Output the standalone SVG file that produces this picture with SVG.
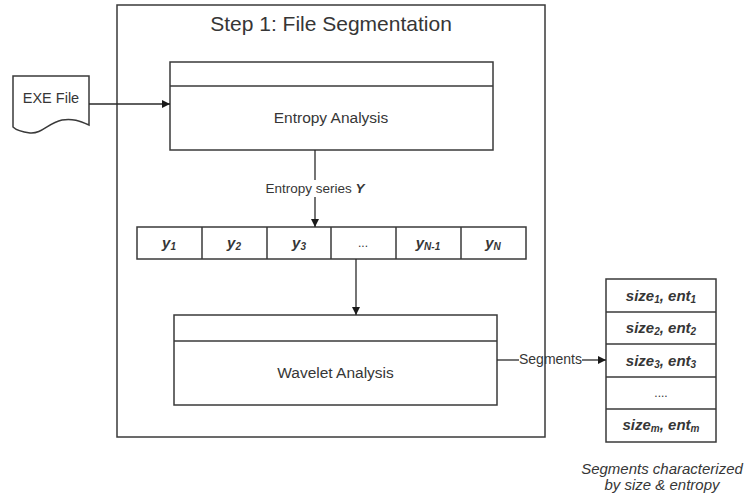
<svg xmlns="http://www.w3.org/2000/svg" width="752" height="500" viewBox="0 0 752 500">
<defs>
<style>
.box{fill:#fff;stroke:#3a3a3a;stroke-width:1.5}
.ln{fill:none;stroke:#2a2a2a;stroke-width:1.3}
.t{font-family:"Liberation Sans",Arial,sans-serif;fill:#363636}
.bi{font-family:"Liberation Sans",Arial,sans-serif;fill:#363636;font-weight:bold;font-style:italic;font-size:15px}
.sub{font-size:10px}
</style>
<marker id="ah" viewBox="0 0 10 10" refX="10" refY="5" markerWidth="8" markerHeight="8" markerUnits="userSpaceOnUse" orient="auto">
<path d="M0,0 L10,5 L0,10 Z" fill="#1a1a1a"/>
</marker>
</defs>
<rect width="752" height="500" fill="#fff"/>

<g id="step1">
<rect class="box" x="117" y="5" width="428" height="432"/>
<text class="t" x="331" y="31" font-size="21" text-anchor="middle">Step 1: File Segmentation</text>
</g>

<g id="exe-file">
<path class="box" d="M13,76 H89 V125 C80,121 72,118 62,120 C48,123 42,134 30,133 C22,132 16,130 13,127 Z"/>
<text class="t" x="51" y="103" font-size="14.5" text-anchor="middle">EXE File</text>
</g>

<g id="entropy-analysis">
<rect class="box" x="170" y="62" width="323" height="88"/>
<line class="box" x1="170" y1="86" x2="493" y2="86"/>
<text class="t" x="331" y="123" font-size="15.5" text-anchor="middle">Entropy Analysis</text>
</g>

<g id="entropy-series">
<rect class="box" x="137" y="227" width="389" height="32"/>
<line class="box" x1="202" y1="227" x2="202" y2="259"/>
<line class="box" x1="267" y1="227" x2="267" y2="259"/>
<line class="box" x1="331" y1="227" x2="331" y2="259"/>
<line class="box" x1="396" y1="227" x2="396" y2="259"/>
<line class="box" x1="461" y1="227" x2="461" y2="259"/>
<text class="bi" x="169" y="248" text-anchor="middle">y<tspan class="sub" dy="2">1</tspan></text>
<text class="bi" x="234" y="248" text-anchor="middle">y<tspan class="sub" dy="2">2</tspan></text>
<text class="bi" x="299" y="248" text-anchor="middle">y<tspan class="sub" dy="2">3</tspan></text>
<text class="t" x="363" y="247" font-size="12" text-anchor="middle">...</text>
<text class="bi" x="428" y="248" text-anchor="middle">y<tspan class="sub" dy="2">N-1</tspan></text>
<text class="bi" x="493" y="248" text-anchor="middle">y<tspan class="sub" dy="2">N</tspan></text>
</g>

<g id="wavelet-analysis">
<rect class="box" x="174" y="315" width="323" height="90"/>
<line class="box" x1="174" y1="341" x2="497" y2="341"/>
<text class="t" x="335.5" y="378" font-size="15.5" text-anchor="middle">Wavelet Analysis</text>
</g>

<g id="segments-table">
<rect class="box" x="606" y="279" width="110" height="163"/>
<line class="box" x1="606" y1="312" x2="716" y2="312"/>
<line class="box" x1="606" y1="344" x2="716" y2="344"/>
<line class="box" x1="606" y1="377" x2="716" y2="377"/>
<line class="box" x1="606" y1="409" x2="716" y2="409"/>
<text class="bi" x="661" y="301" text-anchor="middle">size<tspan class="sub" dy="2">1</tspan><tspan dy="-2">, ent</tspan><tspan class="sub" dy="2">1</tspan></text>
<text class="bi" x="661" y="333" text-anchor="middle">size<tspan class="sub" dy="2">2</tspan><tspan dy="-2">, ent</tspan><tspan class="sub" dy="2">2</tspan></text>
<text class="bi" x="661" y="366" text-anchor="middle">size<tspan class="sub" dy="2">3</tspan><tspan dy="-2">, ent</tspan><tspan class="sub" dy="2">3</tspan></text>
<text class="t" x="661" y="397" font-size="12" text-anchor="middle">....</text>
<text class="bi" x="661" y="430" text-anchor="middle">size<tspan class="sub" dy="2">m</tspan><tspan dy="-2">, ent</tspan><tspan class="sub" dy="2">m</tspan></text>
<text class="t" x="662" y="474" font-size="15" font-style="italic" text-anchor="middle">Segments characterized</text>
<text class="t" x="662" y="490" font-size="15" font-style="italic" text-anchor="middle">by size &amp; entropy</text>
</g>

<g id="connectors">
<line class="ln" x1="89" y1="104" x2="170" y2="104" marker-end="url(#ah)"/>
<line class="ln" x1="315" y1="150" x2="315" y2="180"/>
<text class="t" x="315" y="193" font-size="13.5" text-anchor="middle">Entropy series <tspan font-weight="bold" font-style="italic">Y</tspan></text>
<line class="ln" x1="315" y1="197" x2="315" y2="227" marker-end="url(#ah)"/>
<line class="ln" x1="356" y1="259" x2="356" y2="315" marker-end="url(#ah)"/>
<line class="ln" x1="497" y1="360" x2="519" y2="360"/>
<text class="t" x="550.5" y="364" font-size="14" text-anchor="middle">Segments</text>
<line class="ln" x1="582" y1="360" x2="606" y2="360" marker-end="url(#ah)"/>
</g>
</svg>
